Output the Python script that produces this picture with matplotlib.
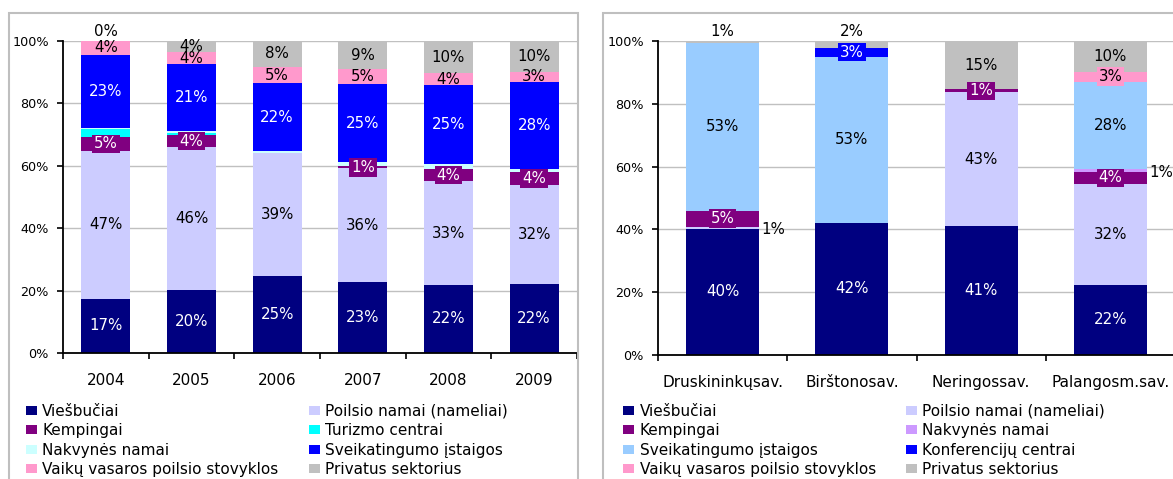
import matplotlib
matplotlib.use("Agg")
import matplotlib.pyplot as plt
from matplotlib.patches import Rectangle, Patch
import numpy as np

plt.rcParams['font.family'] = ['DejaVu Sans']

# ---------------- data: left chart (years) ----------------
years = ["2004", "2005", "2006", "2007", "2008", "2009"]
left_names = ["Viešbučiai", "Poilsio namai (nameliai)", "Kempingai", "Turizmo centrai",
              "Nakvynės namai", "Sveikatingumo įstaigos",
              "Vaikų vasaros poilsio stovyklos", "Privatus sektorius"]
viesbuciai = [17.4, 20.2, 24.8, 22.8, 21.8, 22.0]
poilsio = [47.3, 45.8, 39.4, 36.4, 33.3, 32.0]
kempingai = [4.6, 3.8, 0.0, 0.6, 3.9, 4.0]
turizmo = [2.4, 0.6, 0.0, 0.0, 0.0, 0.0]
nakvynes = [0.5, 0.7, 0.5, 1.4, 1.6, 1.0]
sveikatingumo = [23.4, 21.4, 21.7, 25.0, 25.3, 27.8]
vaiku = [4.4, 3.9, 5.3, 4.8, 3.8, 3.4]
privatus = [0.0, 3.6, 8.3, 9.0, 10.3, 9.8]

# ---------------- data: right chart (municipalities) ----------------
places = ["Druskininkųsav.", "Birštonosav.", "Neringossav.", "Palangosm.sav."]
right_names = ["Viešbučiai", "Poilsio namai (nameliai)", "Kempingai", "Nakvynės namai",
               "Sveikatingumo įstaigos", "Konferencijų centrai",
               "Vaikų vasaros poilsio stovyklos", "Privatus sektorius"]
r_viesbuciai = [40.2, 42.1, 41.0, 22.4]
r_poilsio = [0.6, 0.0, 42.6, 32.2]
r_kempingai = [5.2, 0.0, 1.0, 3.6]
r_nakvynes = [0.0, 0.0, 0.0, 1.0]
r_sveikatingumo = [53.3, 52.9, 0.0, 27.9]
r_konferenciju = [0.0, 2.9, 0.0, 0.0]
r_vaiku = [0.0, 0.0, 0.0, 3.1]
r_privatus = [0.7, 2.1, 15.4, 9.8]

# ---------------- style ----------------
left_colors = ["#000080", "#CCCCFF", "#800080", "#00FFFF", "#CCFFFF", "#0000FF", "#FF99CC", "#C0C0C0"]
left_txt = ["white", "black", "white", None, None, "white", "black", "black"]
left_boxed = {2}
left_side = set()

right_colors = ["#000080", "#CCCCFF", "#800080", "#CC99FF", "#99CCFF", "#0000FF", "#FF99CC", "#C0C0C0"]
right_txt = ["white", "black", "white", "black", "black", "white", "black", "black"]
right_boxed = {2, 5, 6}
right_side = {1, 3}

W, H = 1173, 479
fig = plt.figure(figsize=(W / 100, H / 100), dpi=100)

LBL_FS = 10.8


def fx(px):
    return px / W


def fy(py):
    return 1 - py / H


def add_axes(l, r, t, b):
    return fig.add_axes([fx(l), fy(b), fx(r) - fx(l), fy(t) - fy(b)])


def draw(ax, cats, series, colors, txt, boxed, side, width):
    n = len(cats)
    x = np.arange(n)
    bottom = np.zeros(n)
    last = len(series) - 1
    for i, vals in enumerate(series):
        vals = np.asarray(vals, dtype=float)
        ax.bar(x, vals, width, bottom=bottom, color=colors[i], linewidth=0, zorder=2)
        if txt[i] is not None:
            for j in range(n):
                v = vals[j]
                lab = f"{round(v):.0f}%"
                c = bottom[j] + v / 2
                if i == last and v < 3:
                    ax.annotate(lab, (x[j], 100), xytext=(0, 9), textcoords='offset pixels',
                                ha='center', va='center', fontsize=LBL_FS, color='black',
                                annotation_clip=False, zorder=5)
                elif v <= 0:
                    continue
                elif i in side and v < 2:
                    ax.annotate(lab, (x[j] + width / 2, c), xytext=(2, -2), textcoords='offset pixels',
                                ha='left', va='center', fontsize=LBL_FS, color='black',
                                annotation_clip=False, zorder=5)
                else:
                    kw = {}
                    if i in boxed and v < 6:
                        kw['bbox'] = dict(boxstyle='square,pad=0.12', facecolor=colors[i],
                                          edgecolor='none')
                    ax.text(x[j], c, lab, ha='center', va='center', fontsize=LBL_FS,
                            color=txt[i], zorder=5, **kw)
        bottom = bottom + vals

    ax.set_xlim(-0.5, n - 0.5)
    ax.set_ylim(0, 100)
    ax.set_yticks(np.arange(0, 101, 20))
    ax.set_yticklabels([f"{t}%" for t in range(0, 101, 20)], fontsize=9.2)
    ax.yaxis.grid(True, color='#C0C0C0', lw=1.0)
    ax.set_axisbelow(True)
    for s in ['top', 'right']:
        ax.spines[s].set_visible(False)
    for s in ['left', 'bottom']:
        ax.spines[s].set_color('black')
        ax.spines[s].set_linewidth(1.3)
    ax.set_xticks(np.arange(n + 1) - 0.5)
    ax.set_xticklabels([])
    ax.set_xticks(x, minor=True)
    ax.set_xticklabels(cats, minor=True, fontsize=11)
    ax.tick_params(axis='x', which='major', length=4, width=1.2, direction='out')
    ax.tick_params(axis='x', which='minor', length=0, pad=14.5)
    ax.tick_params(axis='y', length=4.3, width=1.2, pad=6)


axL = add_axes(63, 577, 41, 353)
draw(axL, years,
     [viesbuciai, poilsio, kempingai, turizmo, nakvynes, sveikatingumo, vaiku, privatus],
     left_colors, left_txt, left_boxed, left_side, 0.57)

axR = add_axes(658, 1175, 41, 355)
draw(axR, places,
     [r_viesbuciai, r_poilsio, r_kempingai, r_nakvynes, r_sveikatingumo, r_konferenciju, r_vaiku, r_privatus],
     right_colors, right_txt, right_boxed, right_side, 0.565)

# chart borders
fig.add_artist(Rectangle((fx(8.5), -0.1), fx(578) - fx(8.5), fy(13) + 0.1, transform=fig.transFigure,
                         fill=False, edgecolor='#BFBFBF', lw=1.5))
fig.add_artist(Rectangle((fx(603), -0.1), 1.0, fy(13) + 0.1, transform=fig.transFigure,
                         fill=False, edgecolor='#BFBFBF', lw=1.5))


def legend(names, colors, col_x, top):
    for col in range(2):
        idx = [r * 2 + col for r in range(4)]
        handles = [Patch(facecolor=colors[k], edgecolor='none') for k in idx]
        fig.legend(handles, [names[k] for k in idx], loc='upper left',
                   bbox_to_anchor=(fx(col_x[col]), fy(top)), bbox_transform=fig.transFigure,
                   frameon=False, borderpad=0, borderaxespad=0, handlelength=0.7,
                   handleheight=0.55, handletextpad=0.35, labelspacing=0.28, fontsize=11)


legend(left_names, left_colors, [26, 309], 404)
legend(right_names, right_colors, [623.5, 906], 404)

fig.savefig("out.png", dpi=100)
